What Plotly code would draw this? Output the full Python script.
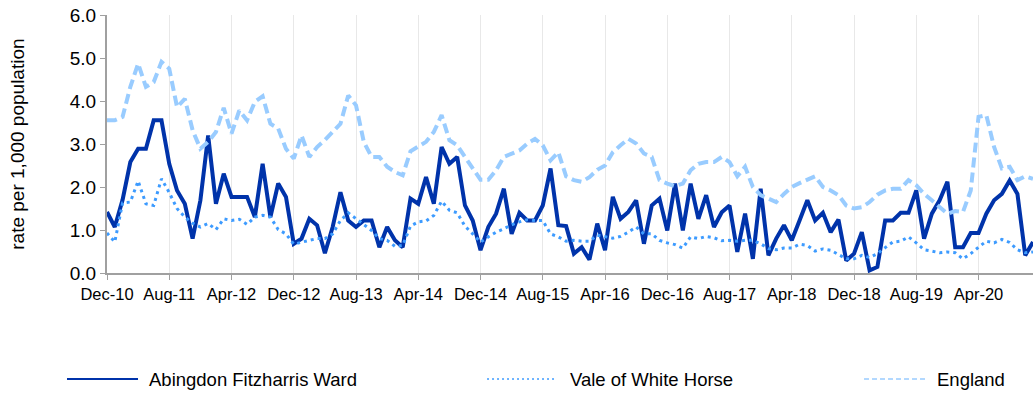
import pandas as pd
import plotly.graph_objects as go

# Monthly periods, Dec-10 through Nov-20
months = pd.date_range("2010-12-01", periods=120, freq="MS").strftime("%b-%y").tolist()

series_names = ["Abingdon Fitzharris Ward", "Vale of White Horse", "England"]

abingdon = [
    1.42, 1.07, 1.70, 2.58, 2.89, 2.89, 3.55, 3.55, 2.54, 1.92,
    1.61, 0.80, 1.69, 3.20, 1.61, 2.31, 1.77, 1.77, 1.77, 1.30,
    2.54, 1.30, 2.08, 1.77, 0.68, 0.80, 1.26, 1.11, 0.46, 1.07,
    1.88, 1.22, 1.07, 1.22, 1.22, 0.60, 1.07, 0.76, 0.60, 1.73,
    1.61, 2.23, 1.61, 2.93, 2.54, 2.70, 1.57, 1.22, 0.53, 1.07,
    1.38, 1.96, 0.91, 1.40, 1.22, 1.22, 1.57, 2.43, 1.11, 1.09,
    0.45, 0.60, 0.31, 1.15, 0.53, 1.77, 1.26, 1.42, 1.69, 0.68,
    1.57, 1.73, 0.99, 2.08, 0.99, 2.08, 1.26, 1.81, 1.07, 1.41,
    1.57, 0.49, 1.38, 0.33, 1.96, 0.41, 0.80, 1.11, 0.76, 1.22,
    1.69, 1.22, 1.40, 0.95, 1.24, 0.29, 0.45, 0.95, 0.06, 0.14,
    1.22, 1.22, 1.40, 1.40, 1.92, 0.80, 1.38, 1.69, 2.12, 0.60,
    0.60, 0.93, 0.93, 1.38, 1.69, 1.84, 2.15, 1.84, 0.41, 0.72,
]

vale = [
    0.93, 0.72, 1.63, 1.65, 2.14, 1.61, 1.57, 2.19, 1.87, 1.50,
    1.30, 1.16, 1.07, 1.15, 1.01, 1.26, 1.22, 1.25, 1.13, 1.30,
    1.34, 1.30, 1.01, 0.91, 0.67, 0.72, 0.76, 0.80, 0.80, 0.91,
    1.22, 1.40, 1.26, 1.11, 0.99, 0.80, 0.76, 0.62, 0.64, 1.09,
    1.19, 1.21, 1.34, 1.67, 1.46, 1.40, 1.09, 0.91, 0.72, 0.84,
    0.95, 1.03, 1.12, 1.19, 1.24, 1.22, 1.22, 0.91, 0.84, 0.74,
    0.76, 0.74, 0.74, 0.88, 0.84, 0.81, 0.85, 0.95, 1.07, 0.91,
    0.91, 0.76, 0.70, 0.66, 0.58, 0.84, 0.80, 0.85, 0.82, 0.75,
    0.76, 0.74, 0.76, 0.76, 0.68, 0.57, 0.54, 0.58, 0.58, 0.67,
    0.64, 0.51, 0.56, 0.53, 0.43, 0.33, 0.33, 0.41, 0.36, 0.45,
    0.59, 0.72, 0.74, 0.84, 0.70, 0.54, 0.51, 0.47, 0.49, 0.47,
    0.33, 0.45, 0.60, 0.74, 0.70, 0.78, 0.71, 0.54, 0.47, 0.49,
]

england = [
    3.55, 3.55, 3.63, 4.33, 4.87, 4.33, 4.44, 4.91, 4.75, 3.86,
    4.05, 3.32, 2.89, 3.05, 3.28, 3.84, 3.24, 3.78, 3.55, 3.98,
    4.11, 3.47, 3.36, 2.89, 2.66, 3.20, 2.70, 2.93, 3.09, 3.28,
    3.47, 4.13, 3.90, 3.05, 2.70, 2.70, 2.47, 2.35, 2.27, 2.83,
    2.93, 3.05, 3.28, 3.67, 3.09, 2.97, 2.70, 2.43, 2.17, 2.17,
    2.39, 2.70, 2.78, 2.85, 3.01, 3.12, 2.97, 2.62, 2.81, 2.25,
    2.16, 2.12, 2.23, 2.40, 2.50, 2.81, 2.97, 3.12, 3.01, 2.78,
    2.70, 2.16, 2.08, 2.02, 2.08, 2.39, 2.54, 2.58, 2.58, 2.70,
    2.58, 2.25, 2.47, 2.00, 1.81, 1.73, 1.65, 1.84, 2.00, 2.09,
    2.16, 2.25, 2.00, 1.92, 1.81, 1.57, 1.50, 1.53, 1.65, 1.82,
    1.92, 1.96, 1.96, 2.16, 2.04, 1.84, 1.69, 1.53, 1.38, 1.44,
    1.42, 1.92, 3.63, 3.67, 2.93, 2.43, 2.47, 2.16, 2.25, 2.19,
]

tick_months = months[::8]
y_ticks = [0, 1, 2, 3, 4, 5, 6]
y_title = "rate per 1,000 population"

# line styles: (plot stroke, legend sample stroke)
styles = [
    dict(color="#0033AA", width=4, dash="solid", key_width=2, key_dash="solid"),
    dict(color="#3D9BFF", width=3, dash="3px,4px", key_width=1.5, key_dash="2px,3px"),
    dict(color="#99CCFF", width=4, dash="10px,5px", key_width=1.5, key_dash="5px,3px"),
]

fig = go.Figure()
for name, values, st in zip(series_names, [abingdon, vale, england], styles):
    fig.add_trace(go.Scatter(
        x=months, y=values, name=name, mode="lines",
        line=dict(color=st["color"], width=st["width"], dash=st["dash"]),
        showlegend=False,
    ))

font_family = "Liberation Sans, Arial, sans-serif"

fig.update_layout(
    width=1034, height=393,
    margin=dict(l=107, r=1, t=15, b=120),
    paper_bgcolor="white", plot_bgcolor="white",
    font=dict(family=font_family, color="#000000"),
)

fig.update_xaxes(
    type="category", range=[0, len(months) - 1],
    tickmode="array", tickvals=tick_months, ticktext=tick_months,
    tickangle=0, tickfont=dict(size=16.5),
    showgrid=True, gridcolor="#E8E8E8", gridwidth=1,
    showline=True, linecolor="#A0A0A0", linewidth=2,
    ticks="outside", ticklen=5, tickcolor="#A0A0A0", tickwidth=1,
    zeroline=False,
)
fig.update_yaxes(
    range=[0, 6], tickmode="array", tickvals=y_ticks,
    tickformat=".1f", tickfont=dict(size=19),
    showgrid=False, zeroline=False,
    showline=True, linecolor="#A0A0A0", linewidth=2,
    ticks="outside", ticklen=5, tickcolor="#A0A0A0", tickwidth=1,
)

# Rotated axis title placed to the left of the tick labels
fig.add_annotation(
    x=-0.0975, y=0.5, xref="paper", yref="paper",
    text=y_title, textangle=-90, showarrow=False,
    xanchor="center", yanchor="middle",
    font=dict(size=19, color="#000000"),
)

# Legend row beneath the plot: sample strokes plus labels
legend_y = -0.411
legend_slots = [(-0.0432, 0.0335, 0.0432), (0.4104, 0.4860, 0.4978), (0.8175, 0.8845, 0.8942)]
for name, st, (x0, x1, xt) in zip(series_names, styles, legend_slots):
    fig.add_shape(
        type="line", xref="paper", yref="paper",
        x0=x0, x1=x1, y0=legend_y, y1=legend_y,
        line=dict(color=st["color"], width=st["key_width"], dash=st["key_dash"]),
    )
    fig.add_annotation(
        x=xt, y=legend_y, xref="paper", yref="paper",
        text=name, showarrow=False, xanchor="left", yanchor="middle",
        font=dict(size=18.5, color="#000000"),
    )

fig.write_html("out.html")
